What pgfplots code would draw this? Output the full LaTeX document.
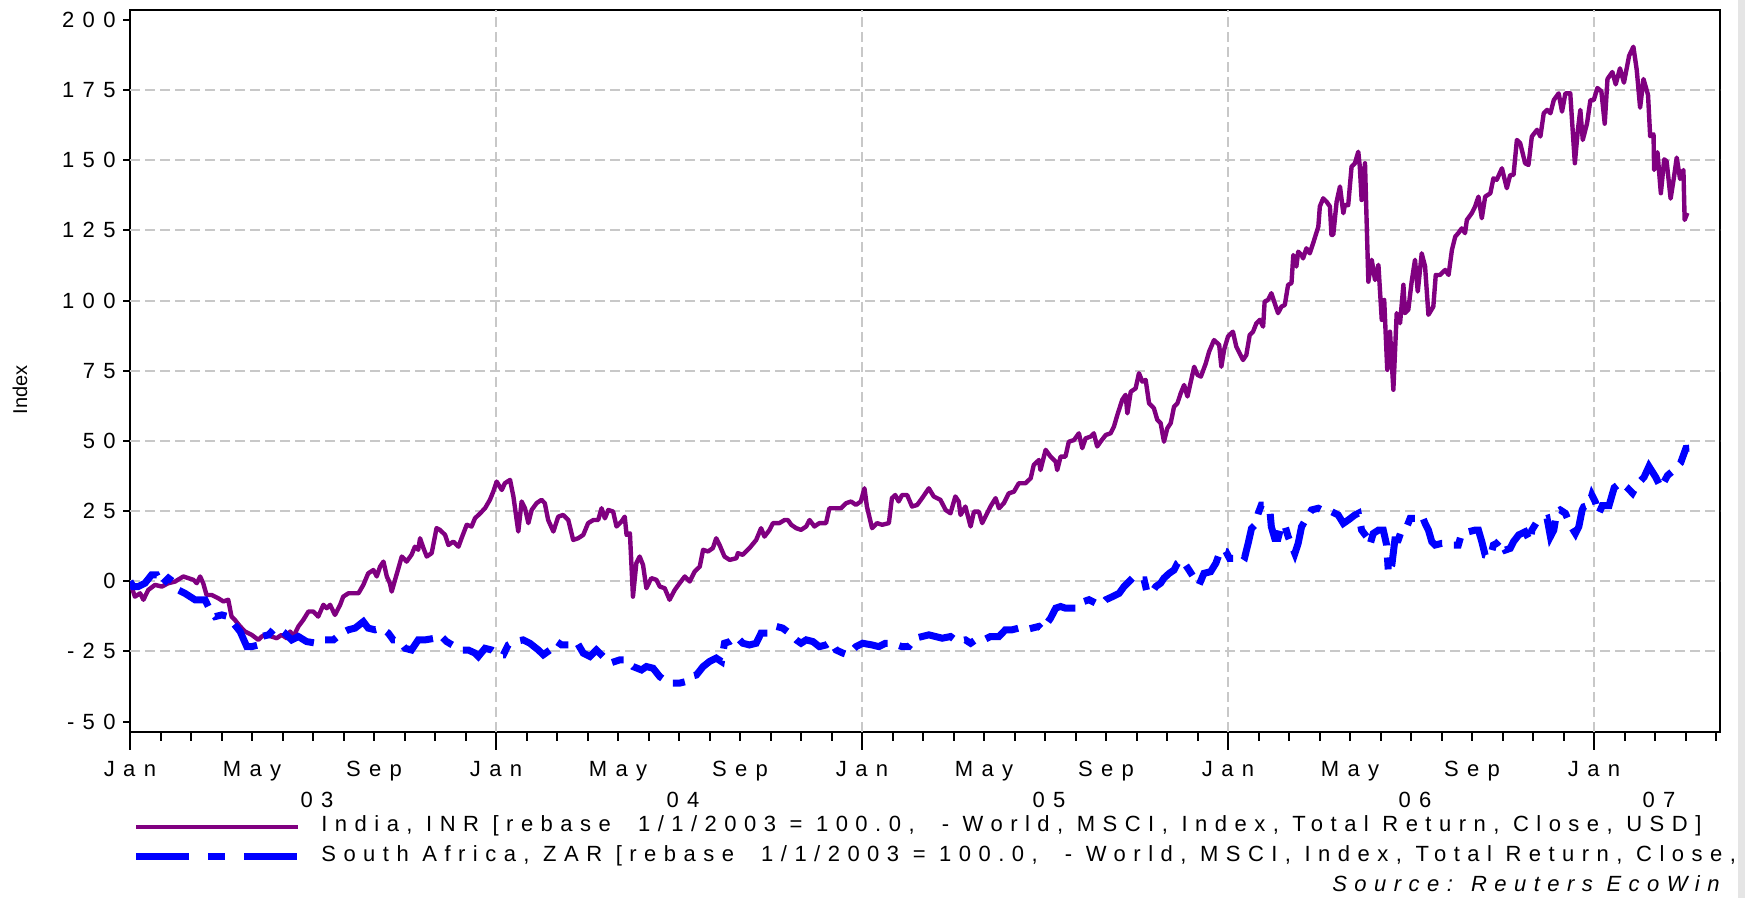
\documentclass[border=0pt]{standalone}
\usepackage{fontspec}
\setmainfont{Liberation Sans}
\newfontfamily\tickfont{Liberation Sans}[LetterSpace=38]
\newfontfamily\legfont{Liberation Sans}[LetterSpace=34]
\usepackage{pgfplots}
\pgfplotsset{compat=1.18}

\definecolor{india}{RGB}{128,0,128}
\definecolor{zar}{RGB}{0,0,255}
\definecolor{gridgray}{RGB}{200,200,200}

% x = months since Jan 2003, y = index rebased to 1/1/2003 (shown as % change)
\pgfplotstableread{
m v
0 0
0.05 -1.9
0.16 -5.5
0.33 -4.3
0.44 -6.6
0.60 -3.1
0.82 -1.3
1.04 -1.9
1.26 -0.7
1.48 -0.1
1.75 1.7
1.91 1.1
2.08 0.5
2.19 -0.7
2.30 1.7
2.40 -0.7
2.51 -4.9
2.68 -4.9
2.90 -6.1
3.06 -7.2
3.22 -6.6
3.33 -12.6
3.44 -13.8
3.61 -16.1
3.77 -17.9
3.99 -19.1
4.21 -20.9
4.32 -19.7
4.43 -19.1
4.64 -19.7
4.81 -20.3
4.97 -19.1
5.14 -20.3
5.25 -17.9
5.36 -19.7
5.52 -16.1
5.68 -13.8
5.85 -10.8
6.01 -10.8
6.17 -12.6
6.34 -8.4
6.45 -9.6
6.56 -8.4
6.72 -12.0
6.89 -8.4
6.99 -5.5
7.16 -4.3
7.32 -4.3
7.49 -4.3
7.65 -1.3
7.81 2.8
7.98 4.0
8.09 1.7
8.20 5.2
8.31 7.0
8.42 1.7
8.52 -0.7
8.58 -3.7
8.69 0.5
8.80 4.6
8.91 8.8
9.07 7.0
9.23 9.4
9.34 12.3
9.45 11.2
9.51 15.3
9.62 11.8
9.73 8.8
9.89 10.0
10.05 18.9
10.16 18.3
10.33 16.5
10.44 12.9
10.60 14.1
10.77 12.3
10.87 15.3
11.04 20.1
11.20 19.5
11.31 22.4
11.48 24.2
11.64 26.0
11.80 29.0
11.91 31.9
12.02 35.5
12.19 32.5
12.29 34.9
12.46 36.1
12.57 30.2
12.73 17.7
12.84 28.4
12.95 26.0
13.06 20.7
13.17 25.4
13.33 27.8
13.49 29.0
13.60 27.8
13.71 21.8
13.88 17.7
14.04 23.0
14.20 23.6
14.37 21.8
14.53 14.7
14.69 15.3
14.86 16.5
15.02 20.7
15.19 21.8
15.35 21.8
15.46 26.0
15.57 22.4
15.68 25.4
15.84 24.8
15.95 19.5
16.11 21.2
16.22 23.0
16.28 16.5
16.39 17.1
16.49 -5.5
16.60 6.4
16.71 8.8
16.82 5.8
16.93 -2.5
17.09 1.1
17.26 0.5
17.37 -1.9
17.53 -2.5
17.69 -6.6
17.86 -3.1
18.02 -0.7
18.19 1.7
18.35 -0.1
18.51 3.4
18.68 5.2
18.79 11.2
18.95 10.6
19.11 11.8
19.22 15.3
19.33 12.9
19.49 8.8
19.66 7.6
19.88 8.2
19.93 10.0
20.09 9.4
20.31 11.8
20.53 14.7
20.69 18.9
20.80 15.9
20.97 18.3
21.08 20.7
21.29 20.7
21.46 21.8
21.57 21.8
21.68 20.1
21.84 18.9
22.00 18.3
22.17 19.5
22.28 21.8
22.44 19.5
22.60 20.7
22.82 20.7
22.93 26.0
23.15 26.0
23.31 26.0
23.48 27.8
23.64 28.4
23.80 27.2
23.96 28.4
24.08 33.1
24.16 26.6
24.33 18.9
24.49 20.7
24.66 20.1
24.88 20.7
24.98 29.6
25.09 30.7
25.20 28.4
25.31 30.7
25.48 30.7
25.64 26.6
25.81 27.2
25.97 29.6
26.19 33.1
26.35 30.2
26.57 29.0
26.74 25.4
26.90 24.2
27.06 30.2
27.17 28.4
27.23 23.6
27.39 26.6
27.56 19.5
27.67 24.8
27.83 24.8
27.94 20.7
28.10 24.2
28.21 26.6
28.38 29.6
28.49 26.0
28.65 27.8
28.81 31.3
28.98 31.9
29.14 34.9
29.36 34.9
29.53 36.7
29.63 41.4
29.80 43.2
29.85 39.6
30.02 46.8
30.18 44.4
30.35 42.6
30.40 39.6
30.51 44.4
30.67 44.4
30.78 49.7
30.95 50.3
31.11 52.7
31.22 47.4
31.33 50.9
31.49 51.5
31.60 52.7
31.71 48.0
31.82 49.7
31.99 52.1
32.15 52.7
32.26 55.1
32.37 59.2
32.53 64.6
32.64 66.4
32.70 59.8
32.81 67.5
32.97 68.7
33.08 74.1
33.19 71.1
33.30 71.7
33.41 63.4
33.57 61.6
33.68 57.5
33.79 56.3
33.90 49.7
34.01 54.5
34.12 56.3
34.23 62.2
34.34 63.4
34.45 67.0
34.56 69.9
34.67 65.8
34.78 71.1
34.89 76.4
35.00 73.5
35.11 72.9
35.27 77.6
35.38 81.8
35.54 85.9
35.71 84.2
35.78 76.4
35.87 82.4
36.00 87.2
36.16 88.9
36.27 83.6
36.38 81.2
36.49 78.8
36.60 80.6
36.71 87.7
36.82 88.9
36.93 91.9
37.04 93.1
37.15 90.7
37.20 99.6
37.31 100.2
37.42 102.6
37.53 99.0
37.64 95.5
37.75 97.8
37.86 98.4
37.97 105.6
38.08 106.2
38.14 116.2
38.24 112.1
38.30 117.4
38.41 116.2
38.46 115.0
38.57 118.6
38.68 116.8
38.79 120.4
38.96 126.3
39.01 133.5
39.12 136.4
39.23 135.2
39.34 133.5
39.39 123.4
39.45 123.4
39.56 135.2
39.67 140.6
39.78 131.1
39.83 134.0
39.94 134.0
40.05 147.7
40.16 148.9
40.27 153.0
40.32 147.7
40.38 135.8
40.49 148.9
40.60 106.7
40.71 114.5
40.82 107.3
40.93 112.7
41.04 93.1
41.12 100.2
41.22 75.3
41.31 88.9
41.42 68.2
41.53 95.5
41.64 91.9
41.75 105.6
41.80 95.5
41.91 96.7
42.02 106.7
42.13 114.5
42.22 103.2
42.35 116.8
42.46 112.1
42.57 94.9
42.73 97.8
42.81 109.1
42.95 109.1
43.12 110.9
43.23 109.1
43.34 118.0
43.45 122.8
43.55 124.0
43.66 125.7
43.77 124.0
43.83 128.7
43.99 131.1
44.10 133.5
44.21 137.0
44.32 129.3
44.43 137.0
44.60 138.2
44.70 143.5
44.81 143.0
44.98 147.1
45.14 140.0
45.25 144.7
45.36 144.7
45.47 157.2
45.58 156.0
45.74 148.9
45.85 148.3
45.96 158.4
46.13 160.8
46.24 158.4
46.35 166.7
46.46 167.9
46.57 166.7
46.68 171.4
46.84 173.8
46.95 167.3
47.06 173.8
47.22 173.8
47.37 148.9
47.47 160.8
47.55 167.9
47.63 157.2
47.77 163.1
47.88 171.4
47.99 171.4
48.11 175.7
48.24 174.5
48.35 163.0
48.44 178.9
48.60 181.4
48.71 177.0
48.85 182.7
48.98 177.6
49.15 187.2
49.29 190.4
49.40 182.1
49.51 168.7
49.62 178.9
49.77 173.2
49.84 158.5
49.95 159.2
49.97 146.5
50.08 152.8
50.19 138.2
50.30 150.3
50.38 149.6
50.51 136.3
50.62 143.9
50.71 150.9
50.82 143.3
50.93 146.5
50.97 128.7
51.06 131.2
}\india

\pgfplotstableread{
m v
0.00 0
0.10 -1.9
0.27 -1.9
0.49 -0.7
0.71 2.3
0.87 2.3
1.04 -1.3
1.26 1.1
1.48 -0.7
1.58 -3.1
1.80 -4.3
2.13 -6.6
2.46 -6.6
2.62 -10.2
2.79 -12.6
3.01 -12.0
3.22 -12.6
3.44 -15.6
3.61 -17.9
3.83 -23.3
3.99 -23.3
4.21 -22.7
4.32 -19.7
4.54 -19.1
4.70 -17.3
4.86 -16.7
5.08 -18.5
5.30 -20.9
5.52 -19.7
5.79 -21.5
6.12 -22.1
6.39 -20.9
6.67 -20.9
6.94 -18.5
7.16 -17.3
7.38 -16.7
7.65 -14.4
7.81 -16.7
8.03 -17.3
8.25 -16.7
8.47 -18.5
8.63 -20.9
8.80 -20.9
9.02 -23.9
9.23 -24.5
9.45 -20.9
9.67 -20.9
10.00 -20.3
10.16 -19.1
10.38 -21.5
10.66 -23.3
10.87 -24.5
11.09 -24.5
11.31 -25.6
11.42 -26.8
11.64 -23.9
11.86 -24.5
12.08 -26.2
12.24 -26.2
12.40 -22.7
12.62 -21.5
12.89 -20.9
13.11 -22.1
13.39 -24.5
13.55 -26.2
13.77 -24.5
13.99 -21.5
14.15 -22.7
14.42 -22.7
14.64 -21.5
14.86 -25.6
15.08 -26.8
15.29 -24.5
15.51 -26.8
15.73 -29.2
16.06 -28.0
16.28 -28.0
16.49 -30.4
16.77 -31.6
16.93 -30.4
17.15 -31.0
17.37 -34.0
17.59 -35.7
17.75 -36.3
18.02 -36.3
18.24 -35.7
18.35 -34.0
18.57 -33.4
18.79 -30.4
19.00 -28.6
19.22 -27.4
19.39 -28.6
19.49 -22.1
19.66 -21.5
19.88 -19.7
20.09 -22.1
20.31 -22.7
20.53 -22.1
20.69 -18.5
20.97 -18.5
21.19 -16.1
21.40 -16.7
21.62 -18.5
21.84 -20.9
22.00 -22.1
22.17 -20.9
22.39 -21.5
22.60 -23.3
22.82 -22.7
22.99 -21.5
23.15 -24.5
23.37 -25.6
23.53 -26.2
23.69 -24.5
23.80 -23.3
24.02 -22.1
24.33 -22.7
24.55 -23.3
24.77 -22.1
24.98 -22.1
25.31 -23.3
25.53 -23.3
25.75 -20.3
25.97 -19.7
26.19 -19.1
26.41 -19.7
26.63 -20.3
26.90 -19.7
27.12 -21.5
27.39 -20.9
27.56 -22.1
27.72 -20.9
27.99 -20.9
28.21 -19.7
28.49 -19.7
28.70 -17.3
28.92 -17.3
29.14 -16.7
29.36 -17.3
29.58 -16.7
29.80 -16.1
29.91 -17.3
30.18 -13.2
30.35 -9.6
30.51 -9.0
30.67 -9.6
30.89 -9.6
31.11 -9.6
31.28 -7.2
31.44 -6.6
31.66 -7.8
31.82 -8.4
31.99 -6.6
32.21 -5.5
32.43 -4.3
32.59 -1.9
32.70 -0.7
32.92 1.7
33.08 0.5
33.25 0.5
33.35 -4.3
33.52 -3.7
33.63 -1.9
33.79 -0.7
33.90 1.1
34.07 2.8
34.23 4.0
34.34 6.4
34.50 7.6
34.72 4.0
34.89 1.1
35.05 -1.3
35.21 2.8
35.43 3.4
35.60 6.4
35.76 11.2
35.93 10.6
36.05 8.1
36.22 8.1
36.38 9.9
36.55 8.7
36.66 13.5
36.77 18.8
36.88 20.0
36.99 24.2
37.09 27.1
37.20 27.1
37.37 25.4
37.42 19.4
37.53 15.3
37.64 15.3
37.75 20.0
37.86 20.0
37.97 15.9
38.08 12.9
38.19 9.9
38.30 13.5
38.41 19.4
38.57 22.4
38.74 25.4
38.96 26.0
39.18 24.8
39.39 24.8
39.61 23.6
39.78 20.6
39.94 21.8
40.16 23.6
40.27 24.2
40.38 18.2
40.54 15.9
40.65 12.9
40.76 17.0
40.93 18.2
41.09 18.2
41.20 12.9
41.26 2.8
41.37 5.8
41.47 14.7
41.58 14.7
41.69 18.2
41.86 19.4
41.97 22.4
42.13 22.4
42.35 23.6
42.46 20.6
42.57 18.2
42.68 14.1
42.79 12.9
43.01 13.5
43.23 13.5
43.39 12.9
43.55 12.9
43.66 17.0
43.88 17.6
44.10 18.2
44.21 18.2
44.32 14.1
44.43 9.3
44.60 8.7
44.70 12.9
44.81 13.5
44.92 14.7
45.09 11.1
45.25 11.7
45.36 14.1
45.53 16.5
45.74 17.6
45.91 14.1
45.96 18.2
46.13 21.2
46.29 21.8
46.46 22.4
46.57 15.9
46.68 18.2
46.78 24.8
46.89 25.4
47.06 24.2
47.22 20.0
47.39 17.0
47.50 19.4
47.61 25.4
47.66 26.5
47.83 27.1
47.93 30.7
48.04 28.3
48.15 24.0
48.27 26.9
48.49 26.9
48.66 33.3
48.88 35.2
49.09 33.3
49.26 31.4
49.42 34.5
49.64 37.1
49.80 40.9
50.02 37.1
50.19 33.3
50.41 37.7
50.62 39.6
50.84 42.2
51.01 47.3
51.12 47.4
}\zar

\begin{document}
\begin{tikzpicture}[x=1pt,y=1pt]
\path[use as bounding box] (0,0) rectangle (872.5,449);
\fill[black!10] (869,0) rectangle (872.5,449);
\begin{axis}[
  at={(65pt,83.15pt)}, anchor=south west,
  scale only axis, width=795pt, height=361pt,
  xmin=0, xmax=52.13, ymin=-53.6, ymax=203.6,
  axis line style={line width=1pt},
  tick style={black, line width=1pt},
  tick align=outside,
  tick pos=left,
  xtick={0,4,...,48},
  xticklabels={Jan,May,Sep,Jan,May,Sep,Jan,May,Sep,Jan,May,Sep,Jan},
  minor xtick={0,...,52},
  major tick length=3.5pt, minor tick length=4.5pt,
  extra x ticks={12,24,36,48},
  extra x tick labels={},
  extra x tick style={major tick length=9pt, grid=major},
  ytick={-50,-25,...,200},
  yticklabels={-50,-25,0,25,50,75,100,125,150,175,200},
  extra y ticks={-25,0,...,175},
  extra y tick labels={},
  extra y tick style={grid=major},
  major grid style={gridgray, line width=1pt, dash pattern=on 5pt off 2.5pt},
  ticklabel style={font=\tickfont\fontsize{11}{13}\selectfont, inner sep=0pt},
  xticklabel style={anchor=base, yshift=-19pt},
  yticklabel style={anchor=east, xshift=-3.5pt},
]
\addplot[india, line width=2.2pt, line join=round] table[x=m, y=v] {\india};
\addplot[zar, line width=3.5pt, dash pattern=on 18pt off 6pt on 6pt off 6pt] table[x=m, y=v] {\zar};
\end{axis}

% long tick at the start of the first year
\draw[line width=1pt] (65,83.15) -- (65,74.15);

% year labels under the month labels
\foreach \m/\yr in {6/03, 18/04, 30/05, 42/06, 50/07}
  \node[anchor=base, inner sep=0pt, font=\tickfont\fontsize{11}{13}\selectfont]
    at ({65 + \m*15.25 + 2}, 45) {\yr};

% y-axis title
\node[rotate=90, inner sep=0pt, font=\fontsize{10}{12}\selectfont] at (10,254) {Index};

% legend
\draw[india, line width=2pt] (68,35.5) -- (149,35.5);
\node[anchor=base west, inner sep=0pt, font=\legfont\fontsize{11}{13}\selectfont] at (160.5,33)
  {India, INR [rebase\ \ 1/1/2003 = 100.0,\ \ - World, MSCI, Index, Total Return, Close, USD]};
\draw[zar, line width=3.5pt, dash pattern=on 26.5pt off 9.5pt on 8.5pt off 9.5pt] (68,20.5) -- (149,20.5);
\node[anchor=base west, inner sep=0pt, font=\legfont\fontsize{11}{13}\selectfont] at (160.5,18)
  {South Africa, ZAR [rebase\ \ 1/1/2003 = 100.0,\ \ - World, MSCI, Index, Total Return, Close,};
\node[anchor=base east, inner sep=0pt, font=\legfont\itshape\fontsize{11}{13}\selectfont] at (860,3)
  {Source: Reuters EcoWin};
\end{tikzpicture}
\end{document}
